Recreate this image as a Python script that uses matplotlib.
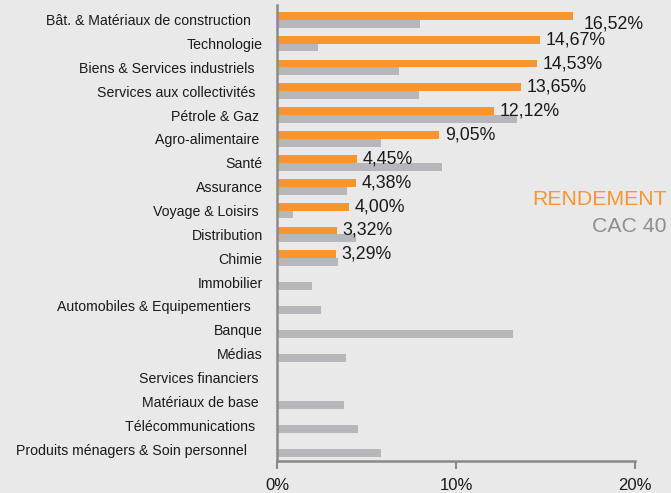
import matplotlib
matplotlib.use('Agg')
import matplotlib.pyplot as plt
import numpy as np

plt.rcParams['font.family'] = ['Liberation Sans', 'DejaVu Sans']

# trailing spaces kept as in the source labels
sectors = ['Bât. & Matériaux de construction   ', 'Technologie', 'Biens & Services industriels  ',
           'Services aux collectivités  ', 'Pétrole & Gaz ', 'Agro-alimentaire ', 'Santé',
           'Assurance', 'Voyage & Loisirs ', 'Distribution', 'Chimie', 'Immobilier',
           'Automobiles & Equipementiers   ', 'Banque', 'Médias', 'Services financiers ',
           'Matériaux de base ', 'Télécommunications  ', 'Produits ménagers & Soin personnel    ']
rendement = [16.52, 14.67, 14.53, 13.65, 12.12, 9.05, 4.45, 4.38, 4.00, 3.32, 3.29,
             0, 0, 0, 0, 0, 0, 0, 0]
cac40 = [8.0, 2.3, 6.8, 7.9, 13.4, 5.8, 9.2, 3.9, 0.9, 4.4, 3.4,
         1.95, 2.45, 13.2, 3.85, 0, 3.75, 4.5, 5.8]

orange = '#f7962f'
grey = '#b6b7ba'
bg = '#e9e9e9'
axis_col = '#8a8a8a'

fig = plt.figure(figsize=(6.71, 4.93), dpi=100, facecolor=bg)
ax = fig.add_axes([0.4133, 0.0649, 0.9463 - 0.4133, 0.989 - 0.0649])
ax.set_facecolor(bg)

y = np.arange(len(sectors))
h = 0.33
ax.barh(y - h / 2, rendement, height=h, color=orange)
ax.barh(y + h / 2, cac40, height=h, color=grey)

for i, v in enumerate(rendement):
    if v > 0:
        off = (8, -6) if i == 0 else (4, 0)
        ax.annotate(('%.2f%%' % v).replace('.', ','), (v, i - h / 2), xytext=off,
                    textcoords='offset points', va='center', ha='left', fontsize=12.8,
                    color='#1a1a1a')

ax.set_xlim(0, 20)
ax.set_ylim(18.5, -0.6)
ax.set_yticks(y)
ax.set_yticklabels(sectors, fontsize=10.2, color='#1a1a1a')
ax.set_xticks([0, 10, 20])
ax.set_xticklabels(['0%', '10%', '20%'], fontsize=12, color='#1a1a1a')
ax.tick_params(axis='y', length=0, pad=10.5)
ax.tick_params(axis='x', length=6, width=1.5, color=axis_col, pad=6)

for s in ['top', 'right']:
    ax.spines[s].set_visible(False)
for s in ['left', 'bottom']:
    ax.spines[s].set_color(axis_col)
    ax.spines[s].set_linewidth(1.8)

fig.text(667 / 671, 1 - 199.5 / 493, 'RENDEMENT', color=orange, fontsize=15.3, ha='right', va='center')
fig.text(667 / 671, 1 - 227 / 493, 'CAC 40', color='#8e8e8e', fontsize=15.3, ha='right', va='center')

fig.savefig('out.png', dpi=100, facecolor=bg)
